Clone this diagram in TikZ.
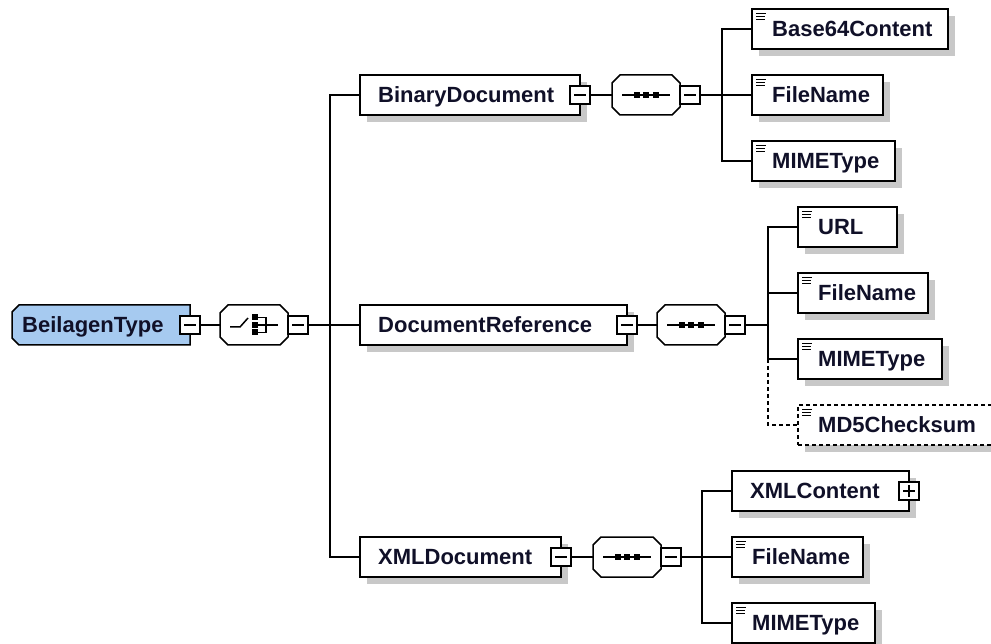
\documentclass[tikz,border=0pt]{standalone}
\usepackage{fontspec}
\setmainfont{Liberation Sans}
\usetikzlibrary{shadows}
\definecolor{shadowc}{RGB}{200,200,200}
\definecolor{rootblue}{RGB}{166,202,240}
\definecolor{txtc}{RGB}{16,16,40}
\newcommand\simpleicon[1]{\draw[line width=0.8pt] ([shift={(4,4)}]#1.north west) -- ++(10,0) ([shift={(4,7)}]#1.north west) -- ++(9,0) ([shift={(4,10)}]#1.north west) -- ++(9,0);}
\newcommand\chpath[3]{([xshift=#2]#1.north west) -- ([xshift=-#3]#1.north east) -- ([yshift=-#3]#1.north east) -- ([yshift=#3]#1.south east) -- ([xshift=-#3]#1.south east) -- ([xshift=#2]#1.south west) -- ([yshift=#2]#1.south west) -- ([yshift=-#2]#1.north west) -- cycle}
\newcommand\chamf[4]{\fill[shadowc, shift={(7,7)}] \chpath{#1}{#3}{#4}; \filldraw[ln, fill=#2] \chpath{#1}{#3}{#4};}
\tikzset{
  ln/.style={line width=1.5pt, draw=black},
  sh/.style={drop shadow={shadow xshift=7pt, shadow yshift=-7pt, fill=shadowc, opacity=1}},
  elem/.style={ln, fill=white, rectangle, minimum height=40pt, inner sep=0pt, outer sep=0pt, sh, anchor=west},
  optelem/.style={elem, dash pattern=on 4pt off 3pt},
  shapebox/.style={rectangle, minimum height=40pt, inner sep=0pt, outer sep=0pt, anchor=west},
  comp/.style={shapebox, minimum width=68pt},
  tog/.style={ln, fill=white, rectangle, minimum width=20pt, minimum height=18pt, inner sep=0pt, outer sep=0pt,
    path picture={\draw[line width=1.1pt] ([xshift=4pt]path picture bounding box.west) -- ([xshift=-4pt]path picture bounding box.east);}},
  togplus/.style={tog, path picture={\draw[line width=1.1pt] ([xshift=4pt]path picture bounding box.west) -- ([xshift=-4pt]path picture bounding box.east) ([yshift=-3pt]path picture bounding box.north) -- ([yshift=3pt]path picture bounding box.south);}},
  txt/.style={anchor=base west, inner sep=0pt, font=\fontsize{22}{26}\selectfont\bfseries, text=txtc},
  conn/.style={line width=1.5pt, draw=black},
  optconn/.style={conn, dash pattern=on 4pt off 3pt},
}
\begin{document}
\begin{tikzpicture}[x=1pt,y=-1pt]
\fill[white] (0,0) rectangle (991,644);
\useasboundingbox (0,0) rectangle (991,644);

% root
\node[shapebox, minimum width=178pt] (root) at (12,325) {};
\chamf{root}{rootblue}{7pt}{0pt}
\node[txt] (rootL) at ([shift={(10,7.5)}]root.west) {BeilagenType};
\node[tog] (rootT) at (root.east) {};

% choice compositor
\node[comp] (choice) at (220,325) {};
\chamf{choice}{white}{8pt}{8pt}
\begin{scope}[shift={(choice.center)}, line width=1.5pt]
  \draw (-24,2) -- (-14,2) -- (-6,-7);
  \fill (-2,-10.5) rectangle (4,-4.5);
  \fill (-2,-3) rectangle (4,3);
  \fill (-2,4.5) rectangle (4,10.5);
  \draw (4,-7.5) -- (12,-7.5) -- (12,7.5) -- (4,7.5);
  \draw (4,0) -- (24,0);
\end{scope}
\node[tog, anchor=west] (choiceT) at (choice.east) {};
\coordinate (j1) at (330,325);

% BinaryDocument
\node[elem, minimum width=220pt] (bin) at (360,95) {};
\node[txt] (binL) at ([shift={(18,7.5)}]bin.west) {BinaryDocument};
\node[tog] (binT) at (bin.east) {};
\node[comp] (seq1) at (612,95) {};
\chamf{seq1}{white}{8pt}{8pt}
\node[tog, anchor=west] (seq1T) at (seq1.east) {};
\coordinate (j2) at (722,95);

% DocumentReference
\node[elem, minimum width=267pt] (docref) at (360,325) {};
\node[txt] (docrefL) at ([shift={(18,7.5)}]docref.west) {DocumentReference};
\node[tog] (docrefT) at (docref.east) {};
\node[comp] (seq2) at (657,325) {};
\chamf{seq2}{white}{8pt}{8pt}
\node[tog, anchor=west] (seq2T) at (seq2.east) {};
\coordinate (j3) at (768,325);

% XMLDocument
\node[elem, minimum width=201pt] (xmld) at (360,557) {};
\node[txt] (xmldL) at ([shift={(18,7.5)}]xmld.west) {XMLDocument};
\node[tog] (xmldT) at (xmld.east) {};
\node[comp] (seq3) at (593,557) {};
\chamf{seq3}{white}{8pt}{8pt}
\node[tog, anchor=west] (seq3T) at (seq3.east) {};
\coordinate (j4) at (702,557);

% sequence symbols
\foreach \s in {seq1,seq2,seq3}{
  \begin{scope}[shift={(\s.center)}, line width=1.5pt]
    \draw (-24,0) -- (24,0);
    \fill (-12.5,-3) rectangle (-6.5,3);
    \fill (-3,-3) rectangle (3,3);
    \fill (6.5,-3) rectangle (12.5,3);
  \end{scope}
}

% Binary children
\node[elem, minimum width=196pt] (b64) at (752,29) {};
\node[txt] (b64L) at ([shift={(20,7.5)}]b64.west) {Base64Content};
\simpleicon{b64}
\node[elem, minimum width=131pt] (fn1) at (752,95) {};
\node[txt] (fn1L) at ([shift={(20,7.5)}]fn1.west) {FileName};
\simpleicon{fn1}
\node[elem, minimum width=143pt] (mime1) at (752,161) {};
\node[txt] (mime1L) at ([shift={(20,7.5)}]mime1.west) {MIMEType};
\simpleicon{mime1}

% DocRef children
\node[elem, minimum width=99pt] (url) at (798,227) {};
\node[txt] (urlL) at ([shift={(20,7.5)}]url.west) {URL};
\simpleicon{url}
\node[elem, minimum width=130pt] (fn2) at (798,293) {};
\node[txt] (fn2L) at ([shift={(20,7.5)}]fn2.west) {FileName};
\simpleicon{fn2}
\node[elem, minimum width=144pt] (mime2) at (798,359) {};
\node[txt] (mime2L) at ([shift={(20,7.5)}]mime2.west) {MIMEType};
\simpleicon{mime2}
\node[optelem, minimum width=210pt] (md5) at (798,425) {};
\node[txt] (md5L) at ([shift={(20,7.5)}]md5.west) {MD5Checksum};
\simpleicon{md5}

% XML children
\node[elem, minimum width=177pt] (xmlc) at (732,491) {};
\node[txt] (xmlcL) at ([shift={(18,7.5)}]xmlc.west) {XMLContent};
\node[togplus] (xmlcT) at (xmlc.east) {};
\node[elem, minimum width=131pt] (fn3) at (732,557) {};
\node[txt] (fn3L) at ([shift={(20,7.5)}]fn3.west) {FileName};
\simpleicon{fn3}
\node[elem, minimum width=143pt] (mime3) at (732,623) {};
\node[txt] (mime3L) at ([shift={(20,7.5)}]mime3.west) {MIMEType};
\simpleicon{mime3}

% connectors
\draw[conn] (rootT.east) -- (choice.west);
\draw[conn] (choiceT.east) -- (j1);
\draw[conn] (bin.west) -- (bin.west -| j1) -- (xmld.west -| j1) -- (xmld.west);
\draw[conn] (j1) -- (docref.west);

\draw[conn] (binT.east) -- (seq1.west);
\draw[conn] (seq1T.east) -- (j2);
\draw[conn] (b64.west) -- (b64.west -| j2) -- (mime1.west -| j2) -- (mime1.west);
\draw[conn] (j2) -- (fn1.west);

\draw[conn] (docrefT.east) -- (seq2.west);
\draw[conn] (seq2T.east) -- (j3);
\draw[conn] (url.west) -- (url.west -| j3) -- (mime2.west -| j3) -- (mime2.west);
\draw[conn] (fn2.west) -- (fn2.west -| j3);
\draw[optconn] (mime2.west -| j3) -- (md5.west -| j3) -- (md5.west);

\draw[conn] (xmldT.east) -- (seq3.west);
\draw[conn] (seq3T.east) -- (j4);
\draw[conn] (xmlc.west) -- (xmlc.west -| j4) -- (mime3.west -| j4) -- (mime3.west);
\draw[conn] (j4) -- (fn3.west);
\end{tikzpicture}
\end{document}
